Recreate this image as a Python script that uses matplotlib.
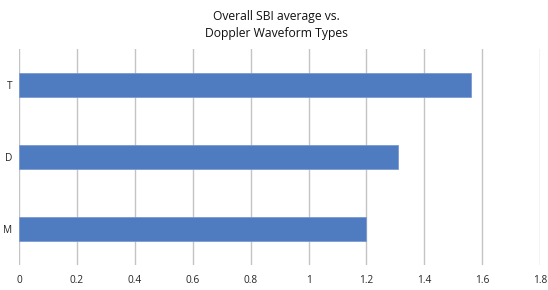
import matplotlib
matplotlib.use("Agg")
import matplotlib.pyplot as plt

categories = ["M", "D", "T"]
values = [1.20, 1.31, 1.56]
xticks = [0, 0.2, 0.4, 0.6, 0.8, 1, 1.2, 1.4, 1.6, 1.8]
xticklabels = ["0", "0.2", "0.4", "0.6", "0.8", "1", "1.2", "1.4", "1.6", "1.8"]

plt.rcParams['font.family'] = ['Open Sans', 'DejaVu Sans']

fig = plt.figure(figsize=(5.48, 2.9), dpi=100)
ax = fig.add_axes([0.0347, 0.086, 0.951, 0.745])

ax.barh(range(len(categories)), values, height=0.34, color="#4f7bc0",
        edgecolor="#7a9ad0", linewidth=0.6, zorder=3)

ax.set_xlim(0, 1.8)
ax.set_ylim(-0.5, 2.5)
ax.set_xticks(xticks)
ax.set_xticklabels(xticklabels, fontsize=7.3, color="#262626")
ax.set_yticks(range(len(categories)))
ax.set_yticklabels(categories, fontsize=7.3, color="#262626")
ax.tick_params(length=0, pad=5)
ax.tick_params(axis='x', pad=7)
ax.grid(axis='x', color="#c4c4c4", linewidth=1.0, zorder=0)
for s in ax.spines.values():
    s.set_visible(False)

fig.text(0.505, 0.965, "Overall SBI average vs.\nDoppler Waveform Types",
         ha='center', va='top', fontsize=8.7, color="#111111", linespacing=1.4)

fig.savefig("out.png", dpi=100)
